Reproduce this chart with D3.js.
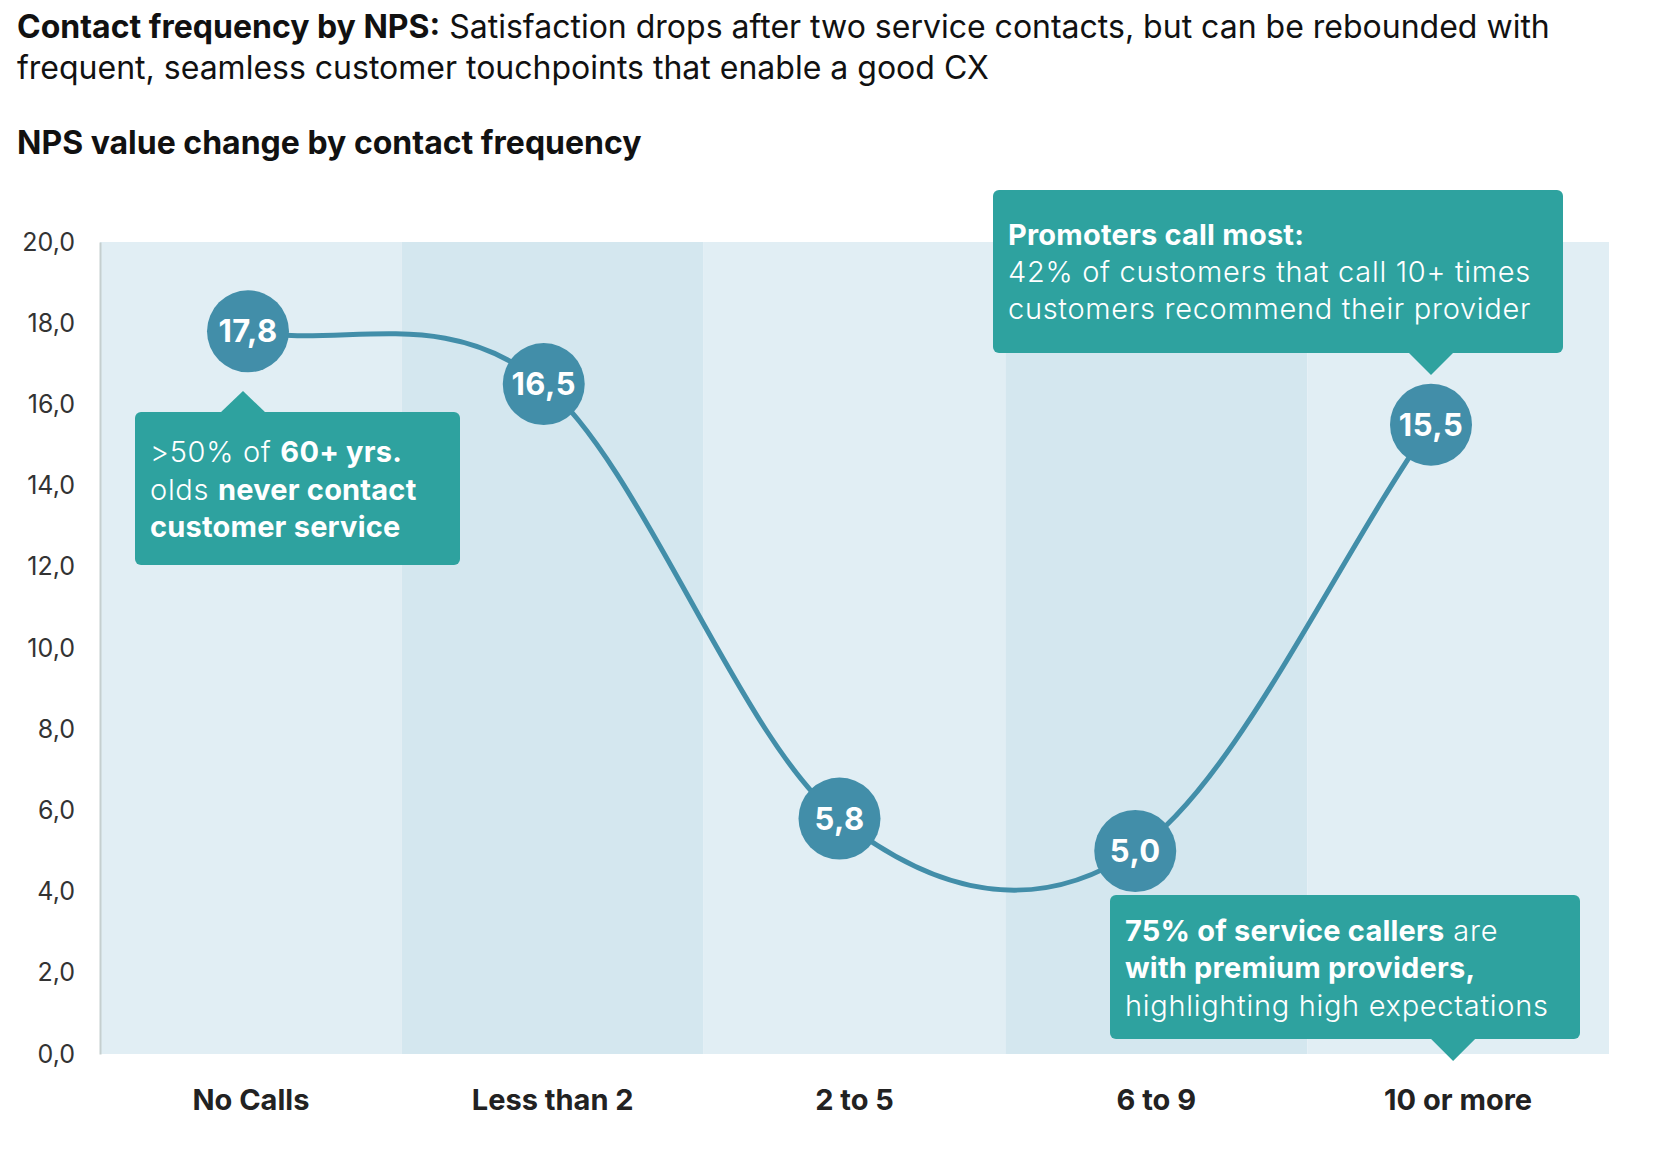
<!DOCTYPE html>
<html>
<head>
<meta charset="utf-8">
<script src="https://cdn.jsdelivr.net/npm/d3@7"></script>
<style>
  body { margin: 0; background: #fff; font-family: Inter, "Noto Sans", sans-serif; }
  #chart { width: 1680px; height: 1176px; }
</style>
</head>
<body>
<div id="chart"></div>
<script>
// data
const categories = ["No Calls", "Less than 2", "2 to 5", "6 to 9", "10 or more"];
const npsValues = [17.8, 16.5, 5.8, 5.0, 15.5];
const yTicks = [0, 2, 4, 6, 8, 10, 12, 14, 16, 18, 20];

const titleBold = "Contact frequency by NPS:";
const titleRest = [" Satisfaction drops after two service contacts, but can be rebounded with",
                   "frequent, seamless customer touchpoints that enable a good CX"];
const subtitle = "NPS value change by contact frequency";

// callout texts: each line is a list of [text, bold]
const noteNoCalls = [
  [[">50% of ", false], ["60+ yrs.", true]],
  [["olds ", false], ["never contact", true]],
  [["customer service", true]]
];
const notePromoters = [
  [["Promoters call most:", true]],
  [["42% of customers that call 10+ times", false]],
  [["customers recommend their provider", false]]
];
const notePremium = [
  [["75% of service callers", true], [" are", false]],
  [["with premium providers,", true]],
  [["highlighting high expectations", false]]
];

const svg = d3.select("#chart").append("svg")
  .attr("width", 1680).attr("height", 1176);

const plot = { left: 100, right: 1609, top: 242, bottom: 1054 };

const x = d3.scaleBand().domain(categories).range([plot.left, plot.right]).padding(0);
const xLine = d3.scalePoint().domain(categories).range([248, 1431]);
const y = d3.scaleLinear().domain([0, 20]).range([plot.bottom, plot.top]);

const locale = d3.formatLocale({ decimal: ",", thousands: ".", grouping: [3], currency: ["", "€"] });
const fmt = locale.format(".1f");

// uniform catmull-rom, end tangents taken from reflected neighbours
function curveSmooth(context) {
  let pts;
  return {
    lineStart() { pts = []; },
    lineEnd() {
      const n = pts.length;
      if (!n) return;
      context.moveTo(pts[0][0], pts[0][1]);
      const get = i => {
        if (i < 0) return [2 * pts[0][0] - pts[1][0], 2 * pts[0][1] - pts[1][1]];
        if (i >= n) return [2 * pts[n - 1][0] - pts[n - 2][0], 2 * pts[n - 1][1] - pts[n - 2][1]];
        return pts[i];
      };
      for (let i = 0; i < n - 1; i++) {
        const p0 = get(i - 1), p1 = pts[i], p2 = pts[i + 1], p3 = get(i + 2);
        context.bezierCurveTo(
          p1[0] + (p2[0] - p0[0]) / 6, p1[1] + (p2[1] - p0[1]) / 6,
          p2[0] - (p3[0] - p1[0]) / 6, p2[1] - (p3[1] - p1[1]) / 6,
          p2[0], p2[1]);
      }
    },
    point(px, py) { pts.push([+px, +py]); }
  };
}

// titles
const t1 = svg.append("text").attr("x", 17).attr("y", 38)
  .attr("font-size", 32).attr("fill", "#111");
t1.append("tspan").attr("font-weight", 700).text(titleBold);
t1.append("tspan").attr("font-weight", 400).text(titleRest[0]);
svg.append("text").attr("x", 17).attr("y", 79)
  .attr("font-size", 32).attr("fill", "#111").text(titleRest[1]);
svg.append("text").attr("x", 17).attr("y", 154)
  .attr("font-size", 32).attr("font-weight", 700).attr("fill", "#111").text(subtitle);

// background bands
svg.append("g").selectAll("rect")
  .data(categories).join("rect")
  .attr("x", d => x(d))
  .attr("y", y(20))
  .attr("width", x.bandwidth())
  .attr("height", y(0) - y(20))
  .attr("fill", (d, i) => i % 2 === 0 ? "#e1eef4" : "#d4e7ef");

// y axis
const yAxis = svg.append("g")
  .attr("transform", `translate(${plot.left},0)`)
  .call(d3.axisLeft(y).tickValues(yTicks).tickFormat(fmt).tickSize(0).tickPadding(25));
yAxis.select(".domain").attr("stroke", "#c5cfcf").attr("stroke-width", 2);
yAxis.selectAll("text").attr("font-size", 25).attr("fill", "#333")
  .attr("font-family", "Inter, sans-serif");

// x axis labels
const xAxis = svg.append("g")
  .attr("transform", `translate(0,${plot.bottom})`)
  .call(d3.axisBottom(x).tickSize(0).tickPadding(35));
xAxis.select(".domain").remove();
xAxis.selectAll("text").attr("font-size", 29).attr("font-weight", 700).attr("fill", "#222")
  .attr("font-family", "Inter, sans-serif");

// line
const line = d3.line()
  .x((d, i) => xLine(categories[i]))
  .y(d => y(d))
  .curve(curveSmooth);
svg.append("path").datum(npsValues)
  .attr("d", line)
  .attr("fill", "none")
  .attr("stroke", "#428ea9")
  .attr("stroke-width", 5);

// points
const pts = svg.append("g").selectAll("g")
  .data(npsValues).join("g")
  .attr("transform", (d, i) => `translate(${xLine(categories[i])},${y(d)})`);
pts.append("circle").attr("r", 41).attr("fill", "#428ea9");
pts.append("text").attr("text-anchor", "middle").attr("dy", "0.36em")
  .attr("font-size", 31).attr("font-weight", 700).attr("letter-spacing", 0.5).attr("fill", "#fff")
  .text(d => fmt(d));

// callouts
const teal = "#2ea29f";
function callout(box, tip, lines, lineY) {
  const g = svg.append("g");
  g.append("rect").attr("x", box.x).attr("y", box.y)
    .attr("width", box.w).attr("height", box.h).attr("rx", 6).attr("fill", teal);
  const dir = tip.up ? -1 : 1;
  const baseY = tip.up ? box.y + 1 : box.y + box.h - 1;
  g.append("path")
    .attr("d", `M${tip.x - 23},${baseY}L${tip.x},${baseY + dir * tip.len}L${tip.x + 23},${baseY}Z`)
    .attr("fill", teal);
  lines.forEach((runs, i) => {
    const t = g.append("text").attr("x", box.x + 15).attr("y", lineY[i])
      .attr("font-size", 29).attr("fill", "#fff");
    runs.forEach(r => t.append("tspan")
      .attr("font-weight", r[1] ? 700 : 300)
      .attr("letter-spacing", r[1] ? 0.2 : 0.7)
      .text(r[0]));
  });
}

callout({ x: 135, y: 412, w: 325, h: 153 },
  { x: xLine(categories[0]) - 5, up: true, len: 22 },
  noteNoCalls, [462, 500, 537]);

callout({ x: 993, y: 190, w: 570, h: 163 },
  { x: xLine(categories[4]), up: false, len: 23 },
  notePromoters, [245, 282, 319]);

callout({ x: 1110, y: 895, w: 470, h: 144 },
  { x: x(categories[4]) + x.bandwidth() / 2 - 5, up: false, len: 23 },
  notePremium, [941, 978, 1016]);
</script>
</body>
</html>
